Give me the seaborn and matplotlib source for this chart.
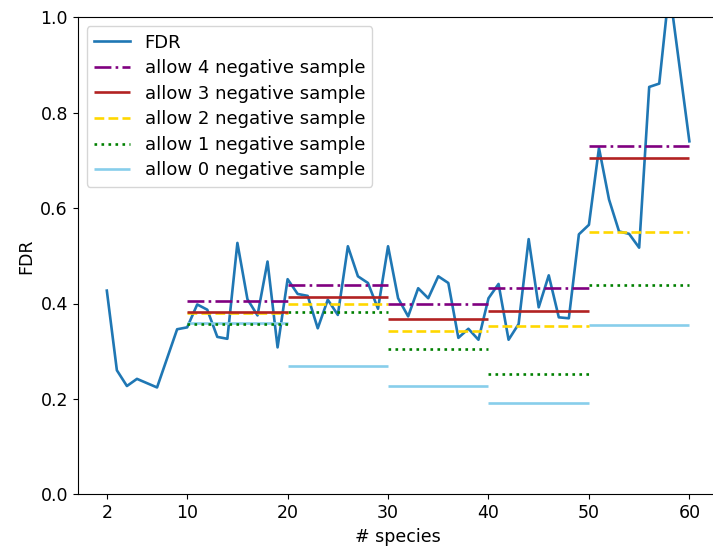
import numpy as np
import pandas as pd
import matplotlib
matplotlib.use("Agg")
import matplotlib.pyplot as plt
import seaborn as sns

# FDR per number of species
species = [2, 3, 4, 5, 7, 9, 10, 11, 12, 13, 14, 15, 16, 17, 18, 19, 20,
           21, 22, 23, 24, 25, 26, 27, 28, 29, 30, 31, 32, 33, 34, 35, 36,
           37, 38, 39, 40, 41, 42, 43, 44, 45, 46, 47, 48, 49, 50, 51, 52,
           53, 54, 55, 56, 57, 58, 60]
fdr = [0.427, 0.260, 0.227, 0.242, 0.224, 0.346, 0.350, 0.398, 0.387, 0.330,
       0.326, 0.527, 0.409, 0.375, 0.488, 0.308, 0.451, 0.420, 0.416, 0.348,
       0.408, 0.376, 0.520, 0.457, 0.443, 0.389, 0.520, 0.411, 0.373, 0.432,
       0.411, 0.457, 0.443, 0.328, 0.347, 0.324, 0.411, 0.441, 0.324, 0.357,
       0.535, 0.392, 0.459, 0.371, 0.369, 0.545, 0.565, 0.726, 0.618, 0.551,
       0.546, 0.517, 0.854, 0.861, 1.060, 0.740]

# threshold levels per species bin
bins = [10, 20, 30, 40, 50, 60]
allow4 = [0.405, 0.438, 0.399, 0.432, 0.731]
allow3 = [0.382, 0.413, 0.368, 0.384, 0.704]
allow2 = [0.380, 0.398, 0.342, 0.352, 0.550]
allow1 = [0.358, 0.382, 0.305, 0.253, 0.439]
allow0 = [0.360, 0.270, 0.226, 0.191, 0.354]

xticks = [2, 10, 20, 30, 40, 50, 60]

plt.rcParams["font.size"] = 12.5

fig = plt.figure(figsize=(7.13, 5.5), dpi=100)
ax = fig.add_axes([77.7 / 713, 1 - 494.3 / 550, 640.8 / 713, 477 / 550])

df = pd.DataFrame({"species": species, "FDR": fdr})
sns.lineplot(data=df, x="species", y="FDR", color="#1f77b4", lw=1.9,
             label="FDR", ax=ax)

levels = [
    ("allow 0 negative sample", allow0, "skyblue", "-"),
    ("allow 1 negative sample", allow1, "green", ":"),
    ("allow 2 negative sample", allow2, "gold", "--"),
    ("allow 3 negative sample", allow3, "firebrick", "-"),
    ("allow 4 negative sample", allow4, "purple", "-."),
]
for name, vals, col, ls in levels:
    ax.hlines(vals, bins[:-1], bins[1:], colors=col, linestyles=ls,
              linewidth=1.9, label=name)

ax.set_xlim(2 - 2.9, 60 + 2.9)
ax.set_ylim(0, 1)
ax.set_xticks(xticks)
ax.set_yticks(np.arange(0, 1.01, 0.2))
ax.set_xlabel("# species")
ax.set_ylabel("FDR")

handles, labels = ax.get_legend_handles_labels()
order = ["FDR"] + [lv[0] for lv in levels[::-1]]
hmap = dict(zip(labels, handles))
ax.legend([hmap[k] for k in order], order, loc="upper left",
          fontsize=13, labelspacing=0.42)

fig.savefig("out.png", dpi=100)
